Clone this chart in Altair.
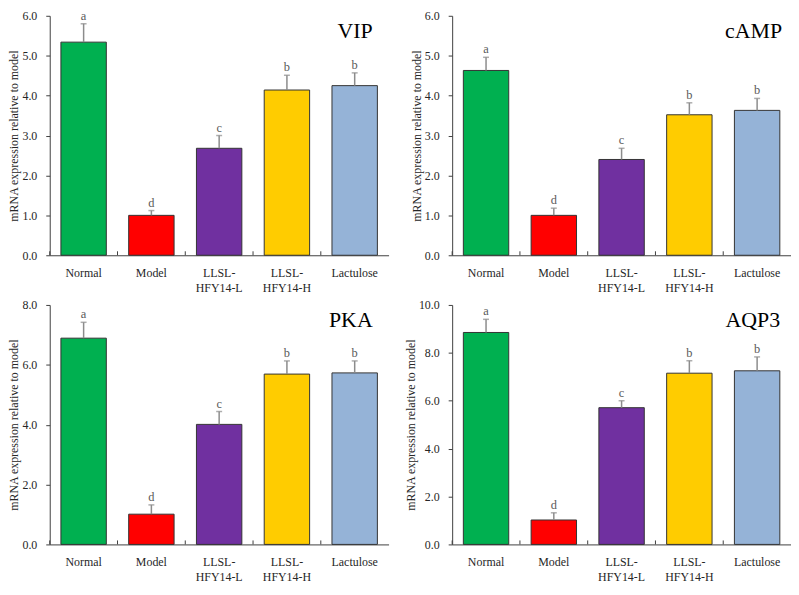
import altair as alt
import pandas as pd

groups = ["Normal", "Model", "LLSL-HFY14-L", "LLSL-HFY14-H", "Lactulose"]
colors = ["#00B050", "#FF0000", "#7030A0", "#FFCC00", "#95B3D7"]
letters = ["a", "d", "c", "b", "b"]

genes = ["VIP", "cAMP", "PKA", "AQP3"]
vip_mean = [5.34, 1.00, 2.68, 4.14, 4.25]
vip_upper = [5.80, 1.12, 3.00, 4.51, 4.57]
camp_mean = [4.63, 1.00, 2.40, 3.52, 3.63]
camp_upper = [4.96, 1.18, 2.68, 3.82, 3.93]
pka_mean = [6.89, 1.01, 4.01, 5.69, 5.73]
pka_upper = [7.42, 1.32, 4.44, 6.13, 6.13]
aqp3_mean = [8.85, 1.02, 5.71, 7.15, 7.25]
aqp3_upper = [9.40, 1.32, 6.00, 7.67, 7.83]

y_max = [6, 6, 8, 10]
vip_ticks = [0, 1, 2, 3, 4, 5, 6]
camp_ticks = [0, 1, 2, 3, 4, 5, 6]
pka_ticks = [0, 2, 4, 6, 8]
aqp3_ticks = [0, 2, 4, 6, 8, 10]

W, H = 341, 241
FONT = "Liberation Serif"
AXIS_COLOR = "#404040"
ERR_COLOR = "#8c8c8c"


def panel(gene, means, uppers, ymax, yticks, title_dx):
    df = pd.DataFrame({"group": groups, "mean": means, "upper": uppers, "letter": letters})
    base = alt.Chart(df)
    xscale = alt.Scale(domain=groups, paddingInner=0, paddingOuter=0)
    xaxis = alt.Axis(
        title=None, ticks=False, labelAngle=0, labelPadding=12,
        labelExpr="indexof(datum.label, 'LLSL-') == 0 ? ['LLSL-', substring(datum.label, 5)] : datum.label",
        labelLineHeight=15,
    )
    xenc = alt.X("group:N", sort=groups, scale=xscale, axis=xaxis)
    xedge = alt.X("group:N", sort=groups, scale=xscale, axis=xaxis, bandPosition=0)
    yscale = alt.Scale(domain=[0, ymax], nice=False, zero=True)
    yaxis = alt.Axis(
        title="mRNA expression relative to model", values=yticks, format=".1f",
        grid=False, tickSize=4, labelPadding=9, titlePadding=1,
    )
    color = alt.Color("group:N", scale=alt.Scale(domain=groups, range=colors), legend=None)

    bars = base.mark_bar(width=alt.RelativeBandSize(0.67), stroke="#333333", strokeWidth=1).encode(
        x=xenc, y=alt.Y("mean:Q", scale=yscale, axis=yaxis), color=color
    )
    err = base.mark_rule(color=ERR_COLOR, strokeWidth=1.5).encode(
        x=xenc, y=alt.Y("upper:Q", scale=yscale, axis=yaxis), y2="mean:Q"
    )
    cap = base.mark_tick(color=ERR_COLOR, size=6, thickness=1.5).encode(
        x=xenc, y=alt.Y("upper:Q", scale=yscale, axis=yaxis)
    )
    lett = base.mark_text(dy=-4, baseline="alphabetic", fontSize=12.5, color="#595959", font=FONT).encode(
        x=xenc, y=alt.Y("upper:Q", scale=yscale, axis=yaxis), text="letter:N"
    )
    edge_ticks = base.mark_rule(color=AXIS_COLOR).encode(
        x=xedge, y=alt.value(H), y2=alt.value(H - 4)
    )
    title = alt.Chart(pd.DataFrame({"t": [gene]})).mark_text(
        align="right", baseline="alphabetic", fontSize=22, font=FONT, color="#000000"
    ).encode(text="t:N", x=alt.value(W - title_dx), y=alt.value(22))
    return alt.layer(bars, err, cap, lett, edge_ticks, title).properties(width=W, height=H)


p1 = panel(genes[0], vip_mean, vip_upper, y_max[0], vip_ticks, 16)
p2 = panel(genes[1], camp_mean, camp_upper, y_max[1], camp_ticks, 9)
p3 = panel(genes[2], pka_mean, pka_upper, y_max[2], pka_ticks, 16)
p4 = panel(genes[3], aqp3_mean, aqp3_upper, y_max[3], aqp3_ticks, 11)

chart = alt.concat(p1, p2, p3, p4, columns=2, spacing={"row": 6, "column": 16}).resolve_scale(
    x="independent", y="independent"
).properties(padding=0).configure_view(stroke=None).configure_axis(
    labelFont=FONT, titleFont=FONT, labelFontSize=12, titleFontSize=12,
    labelColor="#262626", titleColor="#262626", titleFontWeight="normal",
    domainColor=AXIS_COLOR, tickColor=AXIS_COLOR, domainWidth=1,
)

chart.save("out.html", embed_options={"renderer": "svg", "actions": False})
